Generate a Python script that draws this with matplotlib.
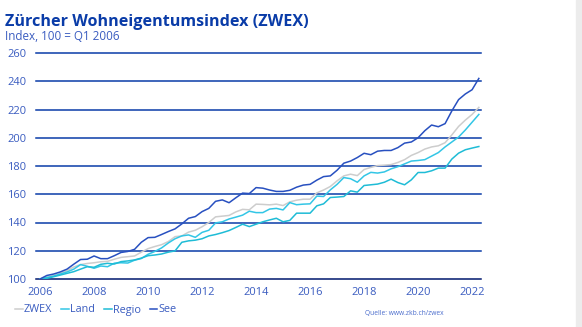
import matplotlib.pyplot as plt
import numpy as np

plt.rcParams['font.family'] = ['Open Sans', 'DejaVu Sans']

# quarterly index values, Q1 2006 = 100, up to Q2 2022
zwex = [100, 101.5, 102.5, 104, 106, 108.5, 110.2, 111, 111.5, 112.2,
        112.5, 114, 115.3, 115.8, 116.3, 119, 121.5, 123, 124.3, 126.5,
        130, 130.5, 133.2, 134.5, 137, 140, 144, 144.5, 145, 147.5,
        149.3, 149, 153, 152.8, 152.5, 153, 152, 154.6, 155.8, 156.5,
        156.5, 161, 163, 165.5, 169.5, 173, 174.2, 173.2, 177.5, 179,
        180.3, 180.6, 181, 182.5, 184.5, 187.5, 189.5, 192, 193.5, 194.3,
        196.5, 202, 208, 212.5, 216.5, 221.5]
land = [100, 101, 102, 103.5, 105, 107, 110.2, 109, 107.6, 109.2,
        108.7, 111.2, 111.5, 111.3, 113.3, 114.5, 117.5, 119.5, 122, 125.5,
        128.5, 130.5, 131.2, 129.5, 133, 134.5, 139.7, 140.5, 142.5, 143.8,
        145.2, 148, 147, 147, 149.5, 150, 148.9, 154.1, 152.6, 153,
        153.2, 158.7, 158.4, 163.1, 167, 171.8, 171, 168.5, 173, 175.5,
        175, 175.8, 178, 179.5, 181.5, 183.5, 183.9, 184.5, 187, 189.5,
        193.5, 197, 200.5, 205.5, 211, 216.5]
regio = [100, 100.5, 101.6, 102.8, 104, 105.2, 107, 108.7, 108.3, 110.4,
         111.1, 110.6, 112.3, 112.8, 113.5, 114.8, 116.5, 117, 117.7, 119,
         119.9, 126, 127, 127.5, 128.5, 130.5, 131.5, 132.8, 134.3, 136.5,
         138.8, 137.1, 138.8, 140.5, 141.8, 143, 140.5, 141.5, 146.6, 146.6,
         146.6, 151.8, 153.2, 157.7, 158, 158.4, 162.4, 161.5, 166.2, 166.7,
         167.2, 168.5, 170.7, 168.3, 166.7, 170.2, 175.4, 175.4, 176.6, 178.5,
         178.5, 184.9, 189.1, 191.5, 192.7, 193.8]
see = [100, 102.5, 103.5, 105, 107, 110.5, 113.8, 114, 116.3, 114.4,
       114.4, 116.5, 118.8, 119.5, 121, 126, 129.3, 129.5, 131.5, 133.6,
       135.5, 139, 143, 144.2, 147.7, 150, 155, 156, 154, 157.5,
       160.8, 160.5, 164.7, 164.3, 163, 162, 162, 162.8, 165, 166.5,
       167, 170, 172.5, 173, 177, 182, 183.5, 186, 189, 188,
       190.5, 191, 191, 193, 196.2, 197, 200, 205, 209, 207.8,
       210, 219, 227, 231, 234, 242]

years = 2006 + np.arange(len(zwex)) / 4
yticks = [100, 120, 140, 160, 180, 200, 220, 240, 260]
xticks = [2006, 2008, 2010, 2012, 2014, 2016, 2018, 2020, 2022]

blue = '#0a3ca8'
txt = '#3a5cc0'

fig = plt.figure(figsize=(5.82, 3.27), dpi=100)
ax = fig.add_axes([36 / 582, 1 - 279 / 327, 445 / 582, 226 / 327])

for v in yticks:
    ax.axhline(v, color='#00186e' if v == 100 else blue, lw=1.1,
               zorder=1, clip_on=False)

ax.plot(years, zwex, color='#cdcdcd', lw=1.1, label='ZWEX', zorder=3)
ax.plot(years, land, color='#33c6e6', lw=1.1, label='Land', zorder=3)
ax.plot(years, regio, color='#1fbcd6', lw=1.1, label='Regio', zorder=3)
ax.plot(years, see, color='#2850c0', lw=1.1, label='See', zorder=4)

ax.set_xlim(2005.85, 2022.33)
ax.set_ylim(100, 260)
for s in ax.spines.values():
    s.set_visible(False)
ax.set_yticks(yticks)
ax.set_xticks(xticks)
ax.tick_params(length=0, labelsize=8, labelcolor=txt)
ax.tick_params(axis='y', pad=7)
ax.tick_params(axis='x', pad=6)

fig.text(5 / 582, 1 - 22 / 327, 'Zürcher Wohneigentumsindex (ZWEX)',
         fontsize=11.6, fontweight='bold', color='#0a3ca8', va='center')
fig.text(5 / 582, 1 - 37 / 327, 'Index, 100 = Q1 2006',
         fontsize=8.4, color=txt, va='center')

leg = fig.legend(loc='center left', bbox_to_anchor=(15 / 582, 1 - 310 / 327),
                 ncol=4, frameon=False, fontsize=7.8, handlelength=0.7,
                 handletextpad=0.1, columnspacing=0.85, borderaxespad=0,
                 borderpad=0)
for t in leg.get_texts():
    t.set_color(txt)

fig.text(365 / 582, 1 - 314 / 327, 'Quelle: www.zkb.ch/zwex',
         fontsize=4.8, color='#4a6ccc', va='center')

# light page edge on the right
fig.patches.append(plt.Rectangle((576 / 582, 0), 6 / 582, 1,
                                 transform=fig.transFigure,
                                 color='#ececec', zorder=0))

fig.savefig('out.png', dpi=100)
